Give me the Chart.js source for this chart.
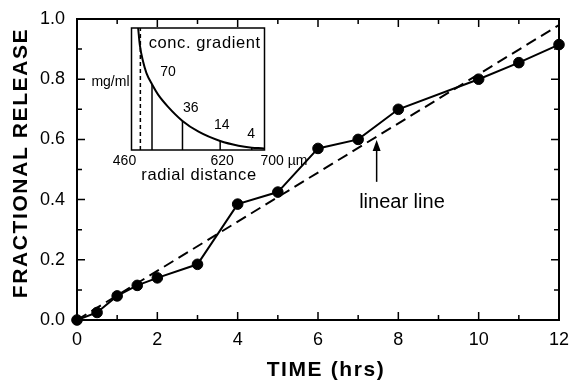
<!DOCTYPE html>
<html>
<head>
<meta charset="utf-8">
<script src="https://cdn.jsdelivr.net/npm/chart.js@4.4.0/dist/chart.umd.min.js"></script>
<style>
html, body { margin: 0; padding: 0; background: #fff; }
#wrap { position: relative; width: 572px; height: 382px; }
#main { position: absolute; left: 0; top: 0; }
#inset { position: absolute; left: 80px; top: 22px; }
</style>
</head>
<body>
<div id="wrap">
  <canvas id="main" width="572" height="382"></canvas>
  <canvas id="inset" width="240" height="160"></canvas>
</div>
<script>
// main plot
const timeHrs = [0, 0.5, 1, 1.5, 2, 3, 4, 5, 6, 7, 8, 10, 11, 12];
const release = [0, 0.025, 0.08, 0.115, 0.14, 0.185, 0.385, 0.425, 0.57, 0.6, 0.7, 0.8, 0.855, 0.915];
const linearX = [0, 12];
const linearY = [0, 0.98];
const xTicks = [0, 2, 4, 6, 8, 10, 12];
const xMinor = [1, 3, 5, 7, 9, 11];
const yTicks = [0, 0.2, 0.4, 0.6, 0.8, 1.0];
const yMinor = [0.1, 0.3, 0.5, 0.7, 0.9];

// inset: concentration gradient
const radialUm = [472, 475, 481, 487, 497, 508, 526, 552, 581, 620, 653, 677, 695, 700];
const concMg = [130, 112, 94, 82, 70, 59, 46, 31, 19.5, 9.6, 4.6, 2.5, 1.8, 1.6];
const surfaceUm = 476;
const sliceUm = [497, 552, 620, 677];
const sliceConc = [70, 31, 9.6, 2.5];
const sliceLabels = ['70', '36', '14', '4'];
const insetTicks = ['460', '620', '700 µm'];

const FONT = "'Liberation Sans', Arial, Helvetica, sans-serif";

function pts(xs, ys) {
    return xs.map((x, i) => ({x: x, y: ys[i]}));
}

const frameTicks = {
    id: 'frameTicks',
    beforeDatasetsDraw(chart) {
        const ctx = chart.ctx;
        const a = chart.chartArea;
        const xs = chart.scales.x, ys = chart.scales.y;
        ctx.save();
        ctx.strokeStyle = '#000';
        ctx.lineWidth = 2;
        ctx.strokeRect(a.left, a.top, a.right - a.left, a.bottom - a.top);
        ctx.lineWidth = 1.5;
        ctx.beginPath();
        const tick = (vals, len) => {
            vals.forEach(v => {
                const px = xs.getPixelForValue(v);
                ctx.moveTo(px, a.bottom); ctx.lineTo(px, a.bottom - len);
                ctx.moveTo(px, a.top); ctx.lineTo(px, a.top + len);
            });
        };
        const ytick = (vals, len) => {
            vals.forEach(v => {
                const py = ys.getPixelForValue(v);
                ctx.moveTo(a.left, py); ctx.lineTo(a.left + len, py);
                ctx.moveTo(a.right, py); ctx.lineTo(a.right - len, py);
            });
        };
        tick(xTicks, 8); tick(xMinor, 5);
        ytick(yTicks, 8); ytick(yMinor, 5);
        ctx.stroke();
        ctx.restore();
    },
    afterDraw(chart) {
        const ctx = chart.ctx;
        const xs = chart.scales.x, ys = chart.scales.y;
        ctx.save();
        ctx.fillStyle = '#000';
        ctx.strokeStyle = '#000';
        // arrow to the linear line
        const ax = xs.getPixelForValue(7.46);
        const tip = ys.getPixelForValue(0.598);
        const tail = ys.getPixelForValue(0.459);
        ctx.lineWidth = 1.5;
        ctx.beginPath();
        ctx.moveTo(ax, tail); ctx.lineTo(ax, tip + 8);
        ctx.stroke();
        ctx.beginPath();
        ctx.moveTo(ax, tip); ctx.lineTo(ax - 4, tip + 11); ctx.lineTo(ax + 4, tip + 11);
        ctx.closePath(); ctx.fill();
        ctx.font = '20px ' + FONT;
        ctx.textAlign = 'center';
        ctx.textBaseline = 'middle';
        ctx.fillText('linear line', xs.getPixelForValue(8.09), ys.getPixelForValue(0.389));
        // axis titles
        ctx.font = 'bold 21px ' + FONT;
        ctx.letterSpacing = '1.6px';
        ctx.fillText('TIME (hrs)', 326, 370);
        ctx.translate(21, 163);
        ctx.rotate(-Math.PI / 2);
        ctx.fillText('FRACTIONAL RELEASE', 0, 0);
        ctx.restore();
    }
};

new Chart(document.getElementById('main'), {
    type: 'scatter',
    data: {
        datasets: [{
            label: 'linear',
            data: pts(linearX, linearY),
            showLine: true,
            borderColor: '#000',
            borderWidth: 2,
            borderDash: [11, 6],
            pointRadius: 0
        }, {
            label: 'release',
            data: pts(timeHrs, release),
            showLine: true,
            borderColor: '#000',
            borderWidth: 2,
            backgroundColor: '#000',
            pointRadius: 5.3,
            pointBorderWidth: 1,
            clip: false
        }]
    },
    options: {
        responsive: false,
        devicePixelRatio: 1,
        animation: false,
        layout: {padding: {left: 0, top: 19, right: 13, bottom: 0}},
        plugins: {legend: {display: false}, tooltip: {enabled: false}},
        scales: {
            x: {
                type: 'linear', min: 0, max: 12,
                grid: {display: false},
                border: {display: false},
                afterBuildTicks: s => { s.ticks = xTicks.map(v => ({value: v})); },
                afterFit: s => { s.height = 62; },
                ticks: {color: '#000', padding: 1, font: {family: FONT, size: 18}, maxRotation: 0}
            },
            y: {
                type: 'linear', min: 0, max: 1,
                grid: {display: false},
                border: {display: false},
                afterBuildTicks: s => { s.ticks = yTicks.map(v => ({value: v})); },
                afterFit: s => { s.width = 77; },
                ticks: {color: '#000', padding: 4, font: {family: FONT, size: 18},
                        callback: v => v.toFixed(1)}
            }
        }
    },
    plugins: [frameTicks]
});

const insetDecor = {
    id: 'insetDecor',
    beforeDatasetsDraw(chart) {
        const ctx = chart.ctx;
        const a = chart.chartArea;
        ctx.save();
        ctx.fillStyle = '#fff';
        ctx.fillRect(a.left, a.top, a.right - a.left, a.bottom - a.top);
        ctx.strokeStyle = '#000';
        ctx.lineWidth = 1.5;
        ctx.strokeRect(a.left, a.top, a.right - a.left, a.bottom - a.top);
        ctx.restore();
    },
    afterDraw(chart) {
        const ctx = chart.ctx;
        const xs = chart.scales.x, ys = chart.scales.y;
        const a = chart.chartArea;
        ctx.save();
        ctx.fillStyle = '#000';
        ctx.textBaseline = 'middle';
        ctx.textAlign = 'center';
        ctx.font = '14px ' + FONT;
        const labelPos = [[526, 83], [567, 45], [623, 27], [676, 17]];
        sliceLabels.forEach((t, i) => {
            ctx.fillText(t, xs.getPixelForValue(labelPos[i][0]), ys.getPixelForValue(labelPos[i][1]));
        });
        ctx.fillText(insetTicks[0], a.left - 7, a.bottom + 11);
        ctx.fillText(insetTicks[1], xs.getPixelForValue(620) + 2, a.bottom + 11);
        ctx.textAlign = 'left';
        ctx.fillText(insetTicks[2], a.right - 4, a.bottom + 11);
        ctx.textAlign = 'right';
        ctx.font = '14px ' + FONT;
        ctx.fillText('mg/ml', a.left - 2, ys.getPixelForValue(72));
        ctx.textAlign = 'center';
        ctx.font = '16.5px ' + FONT;
        ctx.letterSpacing = '0.6px';
        ctx.fillText('conc. gradient', xs.getPixelForValue(592), ys.getPixelForValue(114));
        ctx.fillText('radial distance', (a.left + a.right) / 2 + 1, a.bottom + 25);
        ctx.restore();
    }
};

const insetSets = [{
    data: pts(radialUm, concMg),
    showLine: true,
    borderColor: '#000',
    borderWidth: 2,
    pointRadius: 0,
    cubicInterpolationMode: 'monotone'
}, {
    data: [{x: surfaceUm, y: 0}, {x: surfaceUm, y: 130}],
    showLine: true,
    borderColor: '#000',
    borderWidth: 1.5,
    borderDash: [4, 3],
    pointRadius: 0
}];
sliceUm.forEach((x, i) => {
    insetSets.push({
        data: [{x: x, y: 0}, {x: x, y: sliceConc[i]}],
        showLine: true,
        borderColor: '#000',
        borderWidth: 1.5,
        pointRadius: 0
    });
});

new Chart(document.getElementById('inset'), {
    type: 'scatter',
    data: {datasets: insetSets},
    options: {
        responsive: false,
        devicePixelRatio: 1,
        animation: false,
        layout: {padding: {left: 0, top: 6, right: 55.5, bottom: 0}},
        plugins: {legend: {display: false}, tooltip: {enabled: false}},
        scales: {
            x: {
                type: 'linear', min: 460, max: 700,
                grid: {display: false}, border: {display: false},
                ticks: {display: false},
                afterFit: s => { s.height = 32; }
            },
            y: {
                type: 'linear', min: 0, max: 130,
                grid: {display: false}, border: {display: false},
                ticks: {display: false},
                afterFit: s => { s.width = 51.5; }
            }
        }
    },
    plugins: [insetDecor]
});
</script>
</body>
</html>
